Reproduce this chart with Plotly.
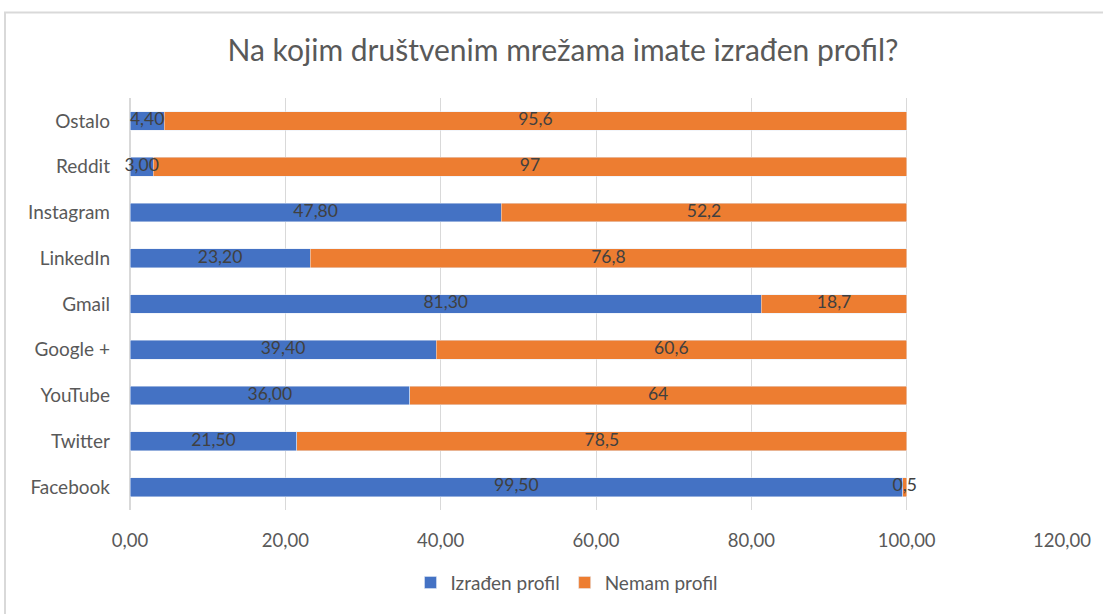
import plotly.graph_objects as go

categories = ["Facebook", "Twitter", "YouTube", "Google +", "Gmail", "LinkedIn", "Instagram", "Reddit", "Ostalo"]
izradjen = [99.5, 21.5, 36.0, 39.4, 81.3, 23.2, 47.8, 3.0, 4.4]
nemam = [0.5, 78.5, 64.0, 60.6, 18.7, 76.8, 52.2, 97.0, 95.6]
x_ticks = [0, 20, 40, 60, 80, 100, 120]

def fmt2(v):
    return f"{v:.2f}".replace(".", ",")

def fmtg(v):
    return f"{v:g}".replace(".", ",")

W, H = 1103, 614
L, R, T, B = 130, 41, 98, 102
pw, ph = W - L - R, H - T - B

FONT = "Lato, 'Open Sans', sans-serif"
label_font = dict(family=FONT, size=17.5, color="#404040")

fig = go.Figure()
fig.add_trace(go.Bar(
    y=categories, x=izradjen, orientation="h", name="Izrađen profil",
    marker=dict(color="#4472C4"), hoverinfo="x+y",
))
fig.add_trace(go.Bar(
    y=categories, x=nemam, orientation="h", name="Nemam profil",
    marker=dict(color="#ED7D31"), hoverinfo="x+y",
))
# data labels drawn on top of both bar series, centred in each segment
fig.add_trace(go.Scatter(
    y=categories, x=[v / 2 for v in izradjen], mode="text",
    text=[fmt2(v) for v in izradjen], textposition="middle center",
    textfont=label_font, showlegend=False, hoverinfo="skip", cliponaxis=False,
))
fig.add_trace(go.Scatter(
    y=categories, x=[v + o / 2 for v, o in zip(izradjen, nemam)], mode="text",
    text=[fmtg(o) for o in nemam], textposition="middle center",
    textfont=label_font, showlegend=False, hoverinfo="skip", cliponaxis=False,
))

fig.update_layout(
    width=W, height=H,
    margin=dict(l=L, r=R, t=T, b=B),
    barmode="stack", bargap=0.59,
    separators=",.",
    paper_bgcolor="white", plot_bgcolor="white",
    font=dict(family=FONT, size=18, color="#595959"),
    title=dict(text="Na kojim društvenim mrežama imate izrađen profil?",
               x=563 / W, xref="container", xanchor="center",
               y=1 - 50 / H, yref="container", yanchor="middle",
               font=dict(size=30, color="#595959")),
    xaxis=dict(range=[0, 120], tickvals=x_ticks, tickformat=".2f",
               showgrid=True, gridcolor="#d9d9d9", gridwidth=1,
               zeroline=True, zerolinecolor="#d9d9d9", showline=False,
               ticklabelstandoff=17, tickfont=dict(size=18.5, color="#595959")),
    yaxis=dict(showgrid=False, ticklabelstandoff=19,
               tickfont=dict(size=19, color="#595959")),
    legend=dict(orientation="h", x=(567 - L) / pw, xanchor="center",
                y=(T + ph - 585) / ph, yanchor="middle",
                font=dict(size=19, color="#595959"), traceorder="normal"),
    shapes=[dict(type="rect", xref="paper", yref="paper",
                 x0=(5 - L) / pw, x1=(W + 20 - L) / pw,
                 y0=(T + ph - (H + 20)) / ph, y1=(T + ph - 12) / ph,
                 line=dict(color="#d9d9d9", width=2), fillcolor="rgba(0,0,0,0)",
                 layer="below")],
)

fig.write_html("out.html", config={"displayModeBar": False},
               post_script="document.body.style.margin='0';document.body.style.overflow='hidden';")
